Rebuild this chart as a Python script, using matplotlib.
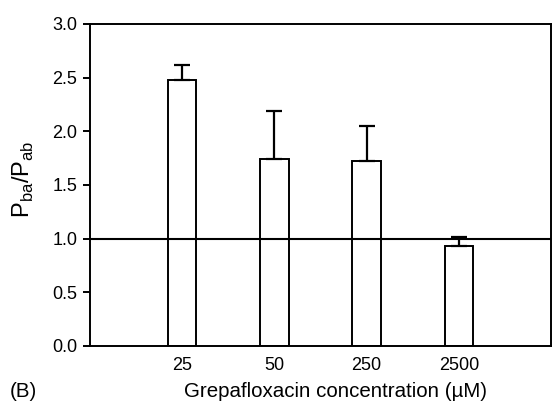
import matplotlib
matplotlib.use('Agg')
import matplotlib.pyplot as plt

plt.rcParams['font.family'] = ['Liberation Sans', 'DejaVu Sans']
plt.rcParams['mathtext.fontset'] = 'custom'
plt.rcParams['mathtext.rm'] = 'Liberation Sans'

# data
concentrations = ['25', '50', '250', '2500']
ratios = [2.48, 1.74, 1.72, 0.93]
errors = [0.14, 0.45, 0.33, 0.09]

fig = plt.figure(figsize=(5.55, 4.04), dpi=100)
ax = fig.add_axes([0.162, 0.1436, 0.831, 0.797])

x = list(range(1, len(concentrations) + 1))
ax.bar(x, ratios, width=0.31, color='white', edgecolor='black', linewidth=1.4, zorder=2)
ax.errorbar(x, ratios, yerr=[[0] * len(errors), errors], fmt='none', ecolor='black',
            elinewidth=1.6, capsize=5.8, capthick=1.6, zorder=3)

# reference line at ratio 1
ax.axhline(1.0, color='black', linewidth=1.5, zorder=4)

ax.set_xlim(0, 5)
ax.set_ylim(0, 3.0)
ax.set_yticks([0.0, 0.5, 1.0, 1.5, 2.0, 2.5, 3.0])
ax.set_yticklabels(['0.0', '0.5', '1.0', '1.5', '2.0', '2.5', '3.0'])
ax.set_xticks(x)
ax.set_xticklabels(concentrations)

for s in ax.spines.values():
    s.set_linewidth(1.4)
ax.tick_params(axis='y', length=5, width=1.4, pad=4, labelsize=13)
ax.tick_params(axis='x', length=0, pad=8, labelsize=13)

fig.text(0.604, 0.017, 'Grepafloxacin concentration (µM)', fontsize=14.8,
         ha='center', va='baseline')
fig.text(0.042, 0.557, r'P$_{\rm ba}$/P$_{\rm ab}$', fontsize=17,
         rotation=90, ha='center', va='center')
fig.text(0.018, 0.017, '(B)', fontsize=14.8, va='baseline')

fig.savefig('out.png', dpi=100)
